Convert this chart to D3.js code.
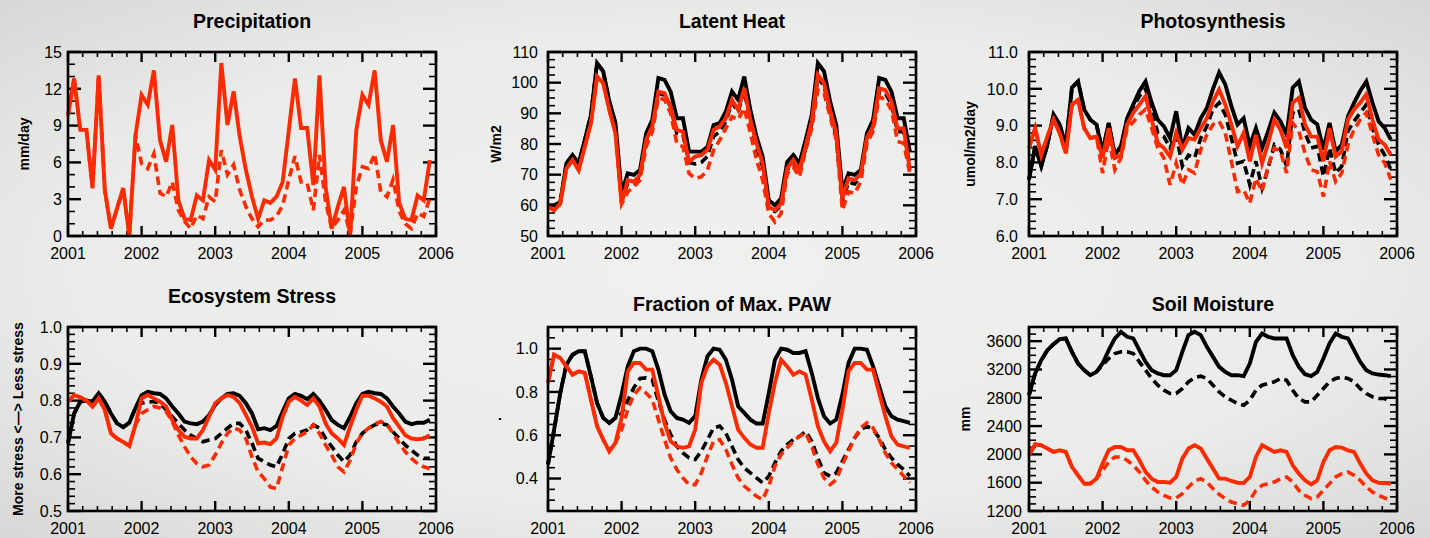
<!DOCTYPE html>
<html>
<head>
<meta charset="utf-8">
<script src="https://cdn.jsdelivr.net/npm/d3@7"></script>
<style>
body { margin: 0; background: #e6e6e4; }
svg { display: block; }
text { font-family: "Liberation Sans", Arial, Helvetica, sans-serif; fill: #000; }
</style>
</head>
<body>
<script>
// monthly values, Jan 2001 .. Dec 2005
var years = [2001, 2002, 2003, 2004, 2005, 2006];
var months = d3.range(60).map(function(i) { return 2001 + i / 12; });

var precipRed = [9.8,12.85,8.65,8.65,3.9,13.1,3.75,0.6,2.25,3.9,0,8.2,
    11.5,10.7,13.5,7.8,6.06,9.05,2.9,1.4,1.3,3.3,2.9,6.2,
    5.4,14.1,9.05,11.8,8.1,5.4,3.2,1.4,2.9,2.7,3.2,4.4,
    8.6,12.85,8.8,8.8,4.15,13.1,4.0,0.6,2.4,4.0,0,8.6,
    11.5,10.7,13.5,7.8,6.06,9.05,2.7,1.4,1.3,3.3,2.9,6.2];
var precipRedDash = [9.8,12.85,8.65,8.65,3.9,13.1,3.75,0.6,2.25,3.9,0,8.2,
    5.9,5.5,6.7,3.5,3.2,4.4,2.1,1.2,0.6,1.7,1.4,3.2,
    2.8,7.0,5.0,5.8,3.75,2.4,1.4,0.75,1.3,1.3,1.6,2.5,
    4.6,6.5,4.4,4.3,2.1,6.6,2.8,0.6,1.3,2.1,0.2,4.0,
    5.65,5.5,6.7,3.6,3.2,4.6,2.0,1.0,0.6,1.85,1.6,3.1];

var heatBlack = [60,60,61,73.7,76.4,73.7,81.3,89.5,106.4,103.7,93.9,86.8,
    64,70.4,69.9,71.5,83.5,87.9,101.5,100.9,97.1,88.4,88.4,77.5,
    77.5,77.5,79.1,86.2,86.8,90.6,97.1,94.4,102,91.1,82.4,75.9,
    61.7,60,62.2,74.2,76.4,73.7,81.3,89.5,106.4,103.7,93.9,86.2,
    64.9,70.4,69.9,71.5,83.5,87.9,101.5,100.9,97.1,88.4,88.4,77.5];
var heatBlackDash = [60,60,61,73.7,76.4,73.7,81.3,89.5,106.4,103.7,93.9,86.8,
    62,67,67,69.5,81,85.5,96.5,96,92,83.5,83,74,
    73.5,74,76,82.5,84,87.5,93.5,90.5,97.5,87,79,72.5,
    58.5,58,60,71.5,74,71,78.5,86.5,101.5,99,90.5,82.5,
    61.5,67.5,67,69.5,81,85,97,96.5,93,84,84,73];
var heatRed = [59.5,58.4,60.6,72,74.8,71.5,79.1,86.8,102,99.9,91.1,83.5,
    60.6,68.2,67.7,69.9,81.3,85.7,97.1,96.6,92.2,84.6,84,74.2,
    75.9,76.4,78,84.6,85.7,88.4,94.4,91.1,98.2,87.9,80.2,73.7,
    59.5,58.4,60.6,72,74.8,71.5,79.1,87.3,102.6,99.9,91.1,83.5,
    62.2,68.8,68.2,70.4,81.9,85.7,98.2,97.6,93.9,85.1,85.1,71.5];
var heatRedDash = [59.5,58.4,60.6,72,74.8,71.5,79.1,86.8,102,99.9,91.1,83.5,
    60.4,64.4,66,68.2,79.1,84,95,94.4,90,80.2,79.1,70.4,
    68.8,69.3,71.5,78,81.3,85.1,88.9,87.9,91.7,83.5,74.8,68.2,
    57.3,54.6,57.3,70.4,72.5,69.3,78,85.1,97.7,96.6,88.9,81.3,
    58.4,64.4,63.9,67.7,80.2,84,95.5,94.4,91.1,80.8,80.2,70.4];

var photoBlack = [7.53,8.44,7.9,8.48,9.3,9.03,8.45,10.03,10.2,9.44,9.16,9.03,
    8.3,9.07,8.2,8.44,9.2,9.57,9.94,10.2,9.62,9.16,8.98,8.66,
    9.39,8.39,8.93,8.75,9.2,9.48,10.0,10.44,10.12,9.53,9.03,9.2,
    8.44,8.93,8.39,8.85,9.35,9.12,8.75,10.03,10.2,9.48,9.16,9.03,
    8.35,9.07,8.3,8.48,9.25,9.62,9.94,10.2,9.62,9.12,8.93,8.62];
var photoBlackDash = [7.53,8.44,7.9,8.48,9.3,9.03,8.45,10.03,10.2,9.44,9.16,9.03,
    8.3,9.07,8.2,8.44,9.15,9.5,9.8,10.0,9.4,8.8,8.7,8.39,
    8.75,7.9,8.2,8.12,8.66,8.98,9.45,9.62,9.3,8.66,7.98,8.03,
    7.39,8.03,7.3,7.85,8.48,8.35,7.9,9.35,9.44,8.8,8.39,8.44,
    7.62,8.39,7.71,7.9,8.85,9.12,9.35,9.57,8.93,8.48,8.2,7.8];
var photoRed = [8.39,8.93,8.2,8.7,9.16,8.8,8.25,9.57,9.7,8.93,8.66,8.7,
    8.12,8.93,8.12,8.2,9.03,9.35,9.57,9.8,9.16,8.53,8.39,8.16,
    8.8,8.35,8.66,8.62,8.93,9.2,9.66,9.98,9.57,9.03,8.44,8.8,
    8.03,8.75,7.98,8.53,9.16,8.89,8.39,9.62,9.75,9.03,8.7,8.7,
    8.03,8.93,8.16,8.3,9.16,9.44,9.62,9.85,9.16,8.62,8.48,8.2];
var photoRedDash = [8.39,8.93,8.2,8.7,9.16,8.8,8.25,9.57,9.7,8.93,8.66,8.7,
    7.71,8.66,7.8,8.12,8.93,9.1,9.3,9.44,8.93,8.39,8.12,7.39,
    7.98,7.39,7.8,7.71,8.35,8.75,9.03,9.12,8.8,8.03,7.21,7.25,
    6.89,7.57,7.21,7.9,8.39,8.3,7.71,9.07,8.85,8.25,7.8,7.75,
    7.07,8.03,7.48,7.71,8.48,8.89,9.16,9.35,8.75,8.2,7.98,7.53];

var stressBlack = [0.684,0.765,0.797,0.80,0.797,0.82,0.797,0.765,0.738,0.728,0.74,0.78,
    0.815,0.824,0.82,0.818,0.806,0.784,0.765,0.743,0.738,0.736,0.743,0.761,
    0.788,0.806,0.818,0.82,0.813,0.793,0.765,0.722,0.725,0.72,0.731,0.77,
    0.806,0.818,0.813,0.804,0.818,0.80,0.775,0.747,0.734,0.725,0.756,0.793,
    0.818,0.824,0.82,0.818,0.806,0.784,0.765,0.743,0.736,0.74,0.74,0.748];
var stressBlackDash = [0.684,0.765,0.797,0.80,0.797,0.82,0.797,0.765,0.738,0.728,0.74,0.78,
    0.793,0.797,0.797,0.793,0.775,0.756,0.738,0.72,0.706,0.697,0.688,0.693,
    0.697,0.711,0.725,0.738,0.738,0.72,0.684,0.643,0.634,0.625,0.62,0.656,
    0.697,0.711,0.715,0.72,0.734,0.725,0.697,0.675,0.652,0.634,0.652,0.688,
    0.711,0.725,0.734,0.738,0.734,0.715,0.697,0.679,0.665,0.652,0.643,0.643];
var stressRed = [0.797,0.815,0.809,0.80,0.784,0.806,0.775,0.711,0.697,0.688,0.677,0.734,
    0.806,0.815,0.806,0.797,0.784,0.747,0.72,0.702,0.697,0.697,0.72,0.756,
    0.793,0.806,0.815,0.81,0.793,0.761,0.729,0.684,0.686,0.682,0.697,0.756,
    0.797,0.81,0.80,0.788,0.806,0.784,0.738,0.711,0.697,0.679,0.729,0.775,
    0.813,0.813,0.806,0.797,0.784,0.752,0.729,0.706,0.697,0.695,0.697,0.706];
var stressRedDash = [0.797,0.815,0.809,0.80,0.784,0.806,0.775,0.711,0.697,0.688,0.677,0.734,
    0.765,0.775,0.784,0.78,0.77,0.743,0.706,0.675,0.647,0.629,0.62,0.625,
    0.652,0.684,0.711,0.725,0.72,0.697,0.647,0.606,0.588,0.565,0.561,0.62,
    0.679,0.697,0.706,0.715,0.734,0.711,0.679,0.652,0.62,0.606,0.638,0.684,
    0.711,0.725,0.736,0.743,0.736,0.711,0.684,0.661,0.643,0.629,0.62,0.615];

var pawBlack = [0.465,0.626,0.795,0.926,0.972,0.988,0.988,0.872,0.749,0.68,0.657,0.68,
    0.788,0.918,0.988,1.0,1.0,0.988,0.903,0.788,0.711,0.68,0.672,0.657,
    0.688,0.857,0.965,1.0,0.995,0.949,0.857,0.734,0.703,0.672,0.654,0.654,
    0.795,0.949,1.0,0.995,0.98,0.98,0.988,0.888,0.772,0.688,0.654,0.672,
    0.788,0.934,1.0,1.0,0.995,0.918,0.826,0.734,0.688,0.672,0.665,0.657];
var pawBlackDash = [0.465,0.626,0.795,0.926,0.972,0.988,0.988,0.872,0.749,0.68,0.657,0.68,
    0.70,0.76,0.82,0.862,0.865,0.857,0.757,0.672,0.603,0.549,0.518,0.495,
    0.488,0.526,0.58,0.634,0.642,0.611,0.549,0.488,0.449,0.426,0.403,0.38,
    0.411,0.472,0.526,0.557,0.58,0.595,0.618,0.572,0.495,0.426,0.411,0.426,
    0.48,0.534,0.588,0.626,0.642,0.626,0.588,0.534,0.495,0.465,0.442,0.411];
var pawRed = [0.842,0.972,0.957,0.918,0.88,0.895,0.888,0.765,0.642,0.58,0.526,0.565,
    0.68,0.895,0.934,0.934,0.903,0.903,0.78,0.657,0.572,0.549,0.542,0.549,
    0.626,0.842,0.918,0.949,0.926,0.842,0.734,0.626,0.588,0.557,0.542,0.542,
    0.703,0.842,0.949,0.918,0.88,0.895,0.88,0.765,0.642,0.572,0.526,0.565,
    0.718,0.895,0.934,0.934,0.903,0.903,0.795,0.688,0.595,0.557,0.549,0.542];
var pawRedDash = [0.842,0.972,0.957,0.918,0.88,0.895,0.888,0.765,0.642,0.58,0.526,0.565,
    0.626,0.718,0.788,0.818,0.795,0.765,0.672,0.58,0.495,0.442,0.403,0.372,
    0.372,0.426,0.503,0.572,0.58,0.534,0.465,0.403,0.365,0.342,0.318,0.303,
    0.365,0.457,0.511,0.542,0.572,0.595,0.611,0.549,0.465,0.403,0.372,0.395,
    0.465,0.526,0.588,0.634,0.657,0.634,0.58,0.518,0.472,0.442,0.411,0.38];

var soilBlack = [2836,3143,3331,3473,3557,3628,3638,3449,3284,3190,3119,3166,
    3284,3473,3638,3732,3661,3638,3473,3308,3190,3143,3119,3119,
    3190,3449,3685,3732,3685,3520,3378,3237,3166,3119,3119,3105,
    3284,3590,3708,3661,3638,3638,3638,3402,3237,3133,3105,3166,
    3355,3567,3708,3661,3638,3473,3308,3190,3143,3128,3119,3105];
var soilBlackDash = [2836,3143,3331,3473,3557,3628,3638,3449,3284,3190,3119,3166,
    3260,3355,3425,3449,3449,3425,3308,3190,3072,2978,2907,2860,
    2860,2930,3025,3086,3105,3072,2978,2883,2813,2765,2718,2695,
    2765,2907,2978,3001,3025,3072,3048,2907,2789,2742,2742,2836,
    2930,3025,3072,3095,3072,3025,2930,2860,2813,2789,2789,2742];
var soilRed = [1987,2143,2129,2082,2035,2058,2035,1823,1704,1587,1587,1657,
    1870,2058,2105,2105,2058,2058,1917,1752,1657,1610,1610,1600,
    1681,1940,2082,2129,2082,1940,1799,1657,1657,1624,1600,1596,
    1681,1964,2129,2082,2035,2058,2035,1846,1728,1634,1577,1634,
    1893,2058,2105,2096,2058,2035,1870,1728,1634,1600,1596,1587];
var soilRedDash = [1987,2143,2129,2082,2035,2058,2035,1823,1704,1587,1587,1657,
    1775,1893,1964,1964,1917,1846,1752,1634,1539,1469,1422,1384,
    1384,1445,1539,1624,1657,1610,1516,1436,1374,1327,1304,1280,
    1351,1492,1563,1587,1610,1657,1681,1610,1492,1422,1374,1398,
    1492,1587,1681,1728,1752,1704,1634,1539,1469,1422,1384,1351];

var RED = "#fe2a00";

// labelGap: space between tick labels and frame, titleGap: y-title baseline offset
var panels = [
    {title: "Precipitation", ylabel: "mm/day", left: 68, top: 52, ty: 28, labelGap: 6, titleGap: 39,
     domain: [0, 15], labels: d3.range(0, 16, 3), minor: 1, fmt: d3.format("d"),
     lines: [[precipRedDash, RED, true], [precipRed, RED, false]]},
    {title: "Latent Heat", ylabel: "W/m2", left: 548, top: 52, ty: 28, labelGap: 10, titleGap: 47,
     domain: [50, 110], labels: d3.range(50, 111, 10), minor: 2.5, fmt: d3.format("d"),
     lines: [[heatBlack, "#000", false], [heatBlackDash, "#000", true], [heatRed, RED, false], [heatRedDash, RED, true]]},
    {title: "Photosynthesis", ylabel: "umol/m2/day", left: 1029, top: 52, ty: 28, labelGap: 11, titleGap: 54,
     domain: [6, 11], labels: d3.range(6, 11.01, 1), minor: 0.2, fmt: d3.format(".1f"),
     lines: [[photoBlack, "#000", false], [photoBlackDash, "#000", true], [photoRed, RED, false], [photoRedDash, RED, true]]},
    {title: "Ecosystem Stress", ylabel: "More stress <\u2014> Less stress", left: 68, top: 327, ty: 303, labelGap: 6, titleGap: 45,
     domain: [0.5, 1.0], labels: d3.range(0.5, 1.001, 0.1), minor: 0.02, fmt: d3.format(".1f"),
     lines: [[stressBlack, "#000", false], [stressBlackDash, "#000", true], [stressRed, RED, false], [stressRedDash, RED, true]]},
    {title: "Fraction of Max. PAW", ylabel: ".", left: 548, top: 327, ty: 311, labelGap: 10, titleGap: 47,
     domain: [0.25, 1.1], labels: [0.4, 0.6, 0.8, 1.0], minor: 0.05, fmt: d3.format(".1f"),
     lines: [[pawBlack, "#000", false], [pawBlackDash, "#000", true], [pawRed, RED, false], [pawRedDash, RED, true]]},
    {title: "Soil Moisture", ylabel: "mm", left: 1029, top: 327, ty: 311, labelGap: 7, titleGap: 59,
     domain: [1200, 3800], labels: d3.range(1200, 3601, 400), minor: 100, fmt: d3.format("d"),
     lines: [[soilBlack, "#000", false], [soilBlackDash, "#000", true], [soilRed, RED, false], [soilRedDash, RED, true]]}
];

var W = 1430, H = 538, pw = 368, ph = 184;

var svg = d3.select("body").append("svg")
    .attr("width", W)
    .attr("height", H);

var grad = svg.append("defs").append("radialGradient")
    .attr("id", "bg")
    .attr("cx", "50%").attr("cy", "50%").attr("r", "75%");
grad.append("stop").attr("offset", "0%").attr("stop-color", "#f0f0ee");
grad.append("stop").attr("offset", "60%").attr("stop-color", "#ebebe9");
grad.append("stop").attr("offset", "100%").attr("stop-color", "#d4d4d2");
svg.append("rect").attr("width", W).attr("height", H).attr("fill", "url(#bg)");

function drawPanel(p) {
    var x = d3.scaleLinear().domain([2001, 2006]).range([p.left, p.left + pw]);
    var y = d3.scaleLinear().domain(p.domain).range([p.top + ph, p.top]);
    var g = svg.append("g");
    var x0 = p.left, x1 = p.left + pw, y0 = p.top, y1 = p.top + ph;

    // minor + major y ticks, both sides, pointing in
    var minorY = d3.range(Math.ceil(p.domain[0] / p.minor - 1e-6), Math.floor(p.domain[1] / p.minor + 1e-6) + 1)
        .map(function(k) { return k * p.minor; });
    var ticks = g.append("g").attr("stroke", "#000");
    minorY.forEach(function(v) {
        var major = p.labels.some(function(l) { return Math.abs(l - v) < 1e-6; });
        var len = major ? 13 : 7;
        ticks.append("line").attr("x1", x0).attr("x2", x0 + len).attr("y1", y(v)).attr("y2", y(v))
            .attr("stroke-width", major ? 2.4 : 1.6);
        ticks.append("line").attr("x1", x1).attr("x2", x1 - len).attr("y1", y(v)).attr("y2", y(v))
            .attr("stroke-width", major ? 2.4 : 1.6);
    });
    d3.range(2001, 2006.01, 0.2).forEach(function(t) {
        var major = Math.abs(t - Math.round(t)) < 1e-6;
        var len = major ? 10 : 5;
        ticks.append("line").attr("x1", x(t)).attr("x2", x(t)).attr("y1", y1).attr("y2", y1 - len)
            .attr("stroke-width", major ? 2.4 : 1.6);
        ticks.append("line").attr("x1", x(t)).attr("x2", x(t)).attr("y1", y0).attr("y2", y0 + len)
            .attr("stroke-width", major ? 2.4 : 1.6);
    });

    var line = d3.line()
        .x(function(d, i) { return x(months[i]); })
        .y(function(d) { return y(d); });
    p.lines.forEach(function(s) {
        g.append("path")
            .datum(s[0])
            .attr("fill", "none")
            .attr("stroke", s[1])
            .attr("stroke-width", s[2] ? 3.6 : 3.9)
            .attr("stroke-dasharray", s[2] ? "8.5,5" : null)
            .attr("d", line);
    });

    g.append("rect")
        .attr("x", x0).attr("y", y0).attr("width", pw).attr("height", ph)
        .attr("fill", "none").attr("stroke", "#000").attr("stroke-width", 2.6);

    g.selectAll(".yl").data(p.labels).join("text")
        .attr("x", x0 - p.labelGap)
        .attr("y", function(d) { return y(d); })
        .attr("dy", "0.36em")
        .attr("text-anchor", "end")
        .attr("font-size", 16)
        .text(p.fmt);

    g.selectAll(".xl").data(years).join("text")
        .attr("x", function(d) { return x(d); })
        .attr("y", y1 + 23)
        .attr("text-anchor", "middle")
        .attr("font-size", 16)
        .text(function(d) { return d; });

    g.append("text")
        .attr("x", (x0 + x1) / 2)
        .attr("y", p.ty)
        .attr("text-anchor", "middle")
        .attr("font-size", 19.5)
        .attr("font-weight", "bold")
        .text(p.title);

    g.append("text")
        .attr("transform", "translate(" + (x0 - p.titleGap) + "," + (y0 + ph / 2) + ") rotate(-90)")
        .attr("text-anchor", "middle")
        .attr("font-size", 14)
        .attr("font-weight", "bold")
        .text(p.ylabel);
}

panels.forEach(drawPanel);
</script>
</body>
</html>
